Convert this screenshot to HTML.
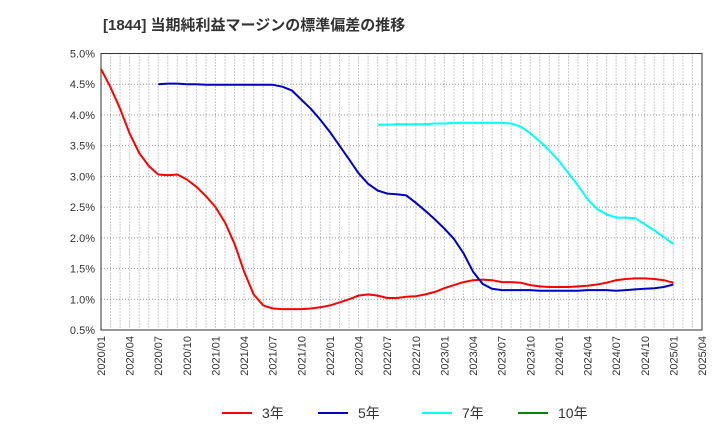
<!DOCTYPE html>
<html><head><meta charset="utf-8"><style>
body{margin:0;background:#fff;}
svg text{font-family:"Liberation Sans","Noto Sans CJK JP",sans-serif;fill:#333;}
</style></head><body>
<svg width="720" height="440">
<text x="103" y="30" font-size="15" font-weight="bold">[1844]  当期純利益マージンの標準偏差の推移</text>
<g id="grid"></g><g id="axes"></g><g id="series"></g>
<g>
<line x1="222" y1="413" x2="252" y2="413" stroke="#f00" stroke-width="2"/><text x="262" y="418" font-size="14">3年</text>
<line x1="318" y1="413" x2="348" y2="413" stroke="#00c" stroke-width="2"/><text x="358" y="418" font-size="14">5年</text>
<line x1="422" y1="413" x2="452" y2="413" stroke="#0ff" stroke-width="2"/><text x="462" y="418" font-size="14">7年</text>
<line x1="518" y1="413" x2="548" y2="413" stroke="#080" stroke-width="2"/><text x="558" y="418" font-size="14">10年</text>
</g>
</svg>
<script>
const yTicks=[0.5,1.0,1.5,2.0,2.5,3.0,3.5,4.0,4.5,5.0];
const xTickLabels=["2020/01","2020/04","2020/07","2020/10","2021/01","2021/04","2021/07","2021/10","2022/01","2022/04","2022/07","2022/10","2023/01","2023/04","2023/07","2023/10","2024/01","2024/04","2024/07","2024/10","2025/01","2025/04"];
const s3=[4.75,4.45,4.1,3.7,3.38,3.17,3.03,3.02,3.03,2.95,2.83,2.68,2.5,2.25,1.9,1.45,1.08,0.9,0.85,0.84,0.84,0.84,0.85,0.87,0.9,0.95,1.0,1.06,1.08,1.06,1.02,1.02,1.04,1.05,1.08,1.12,1.18,1.23,1.28,1.31,1.32,1.31,1.28,1.28,1.27,1.23,1.21,1.2,1.2,1.2,1.21,1.22,1.24,1.27,1.31,1.33,1.34,1.34,1.33,1.31,1.27];
const s5start=6;
const s5=[4.5,4.51,4.51,4.5,4.5,4.49,4.49,4.49,4.49,4.49,4.49,4.49,4.49,4.46,4.4,4.25,4.1,3.92,3.72,3.5,3.28,3.05,2.88,2.77,2.72,2.71,2.69,2.57,2.44,2.3,2.15,1.98,1.75,1.45,1.25,1.17,1.15,1.15,1.15,1.15,1.14,1.14,1.14,1.14,1.14,1.15,1.15,1.15,1.14,1.15,1.16,1.17,1.18,1.2,1.24];
const s7start=29;
const s7=[3.84,3.84,3.85,3.85,3.85,3.85,3.86,3.86,3.87,3.87,3.87,3.87,3.87,3.87,3.86,3.81,3.7,3.57,3.42,3.25,3.05,2.85,2.63,2.47,2.38,2.33,2.33,2.32,2.22,2.12,2.01,1.9];
const L=101,R=702,T=53.5,B=330,N=63;
const X=i=>L+(R-L)*i/N, Y=v=>B-(B-T)*(v-0.5)/4.5;
const ns="http://www.w3.org/2000/svg";
function mk(t,a,p){const e=document.createElementNS(ns,t);for(const k in a)e.setAttribute(k,a[k]);p.appendChild(e);return e;}
const g=document.getElementById('grid'),ax=document.getElementById('axes'),se=document.getElementById('series');
for(let i=1;i<N;i++){const l=mk('line',{x1:X(i),x2:X(i),y1:T,y2:B,stroke:'#999','stroke-dasharray':'1,2','stroke-width':1},g);

}
yTicks.forEach(v=>{const l=mk('line',{x1:L,x2:R,y1:Y(v),y2:Y(v),stroke:'#999','stroke-dasharray':'1,2'},g);


const t=mk('text',{x:L-6,y:Y(v)+4,'text-anchor':'end','font-size':11},ax);t.textContent=v.toFixed(1)+'%';

});
const fr=mk('rect',{x:L,y:T,width:R-L,height:B-T,fill:'none',stroke:'#333'},ax);


xTickLabels.forEach((s,k)=>{const x=X(k*3);const t=mk('text',{x:0,y:0,'text-anchor':'end','font-size':11,transform:`translate(${x+4},${B+6}) rotate(-90)`},ax);t.textContent=s;

});
function line(arr,start,col,name){const d=arr.map((v,i)=>(i?'L':'M')+X(start+i).toFixed(1)+','+Y(v).toFixed(1)).join('');
const p=mk('path',{d:d,fill:'none',stroke:col,'stroke-width':2,'stroke-linejoin':'round'},se);

}
line(s3,0,'#f00','series-3yr');
line(s5,s5start,'#00c','series-5yr');
line(s7,s7start,'#0ff','series-7yr');
</script>
</body></html>
